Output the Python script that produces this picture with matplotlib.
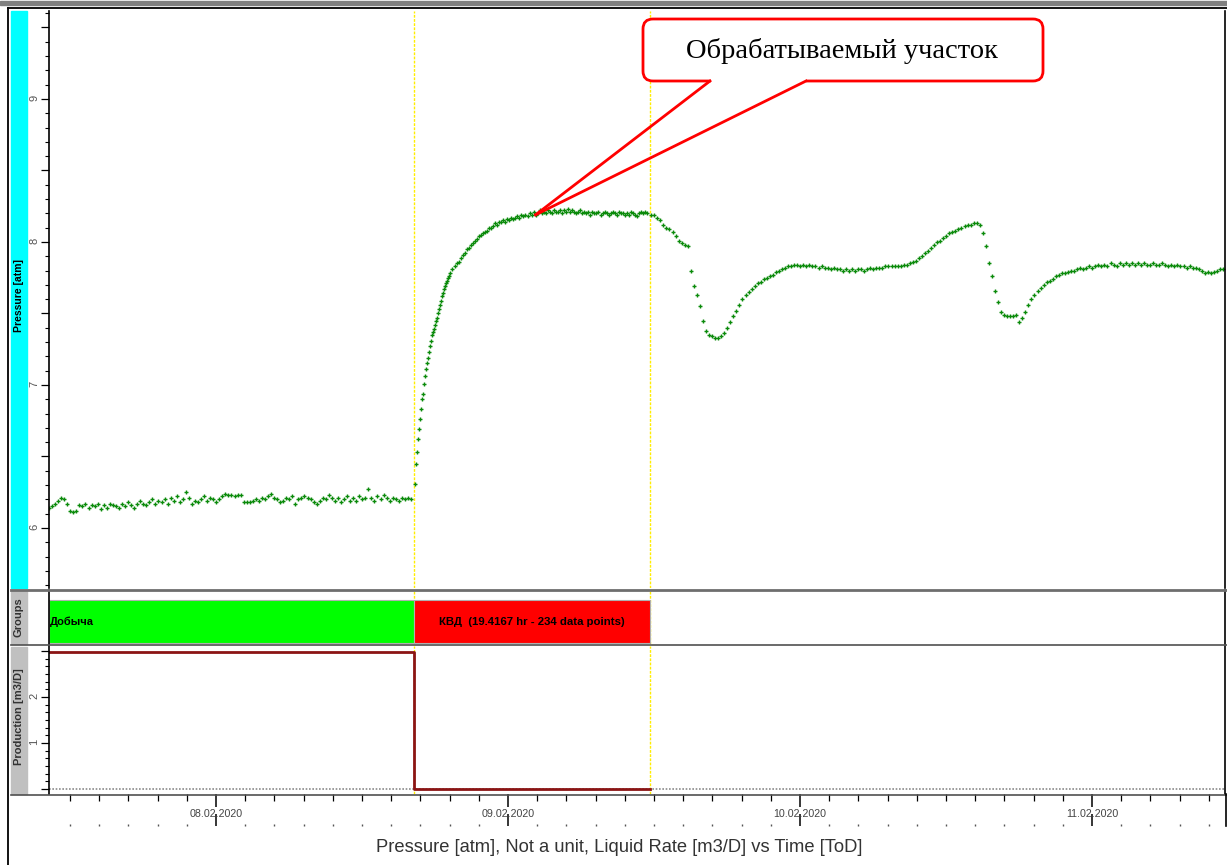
import numpy as np
import matplotlib
matplotlib.use('Agg')
import matplotlib.pyplot as plt
from matplotlib.ticker import MultipleLocator, FuncFormatter
from matplotlib.patches import FancyBboxPatch, Rectangle

plt.rcParams['font.family'] = ['Liberation Sans', 'DejaVu Sans']

# ---- data (time = day of February 2020) ----
prod_start = 7.428
shut_in = 8.678
kvd_hours = 19.4167
kvd_points = 234
kvd_end = shut_in + kvd_hours / 24

# flowing period, one reading every 15 min
p_prod = [
    6.14, 6.15, 6.17, 6.19, 6.21, 6.20, 6.17, 6.12, 6.11, 6.12, 6.16, 6.15,
    6.17, 6.14, 6.16, 6.15, 6.17, 6.13, 6.16, 6.14, 6.17, 6.16, 6.15, 6.14,
    6.17, 6.15, 6.18, 6.16, 6.14, 6.17, 6.19, 6.17, 6.16, 6.18, 6.20, 6.17,
    6.19, 6.18, 6.20, 6.17, 6.21, 6.19, 6.22, 6.18, 6.20, 6.25, 6.21, 6.17,
    6.19, 6.18, 6.20, 6.22, 6.19, 6.21, 6.20, 6.18, 6.20, 6.22, 6.24, 6.23,
    6.23, 6.22, 6.23, 6.23, 6.18, 6.18, 6.18, 6.19, 6.20, 6.19, 6.21, 6.20,
    6.22, 6.24, 6.21, 6.20, 6.18, 6.19, 6.21, 6.20, 6.22, 6.17, 6.20, 6.21,
    6.22, 6.21, 6.20, 6.18, 6.17, 6.19, 6.21, 6.20, 6.23, 6.21, 6.19, 6.21,
    6.18, 6.20, 6.22, 6.19, 6.21, 6.19, 6.22, 6.20, 6.21, 6.27, 6.21, 6.19,
    6.22, 6.20, 6.23, 6.21, 6.19, 6.21, 6.20, 6.19, 6.21, 6.20, 6.21, 6.20,
]
# build-up, first 3 hours every 5 min
p_bu_early = [
    6.31, 6.45, 6.53, 6.62, 6.69, 6.76, 6.83, 6.90, 6.94, 7.01, 7.06, 7.11,
    7.15, 7.19, 7.23, 7.27, 7.31, 7.35, 7.37, 7.39, 7.42, 7.45, 7.47, 7.50,
    7.53, 7.56, 7.59, 7.62, 7.64, 7.67, 7.69, 7.71, 7.73, 7.75, 7.76, 7.78,
]
# build-up, from 190 min every 10 min
p_bu_late = [
    7.81, 7.83, 7.85, 7.86, 7.89, 7.91, 7.92, 7.95, 7.96, 7.98, 7.99, 8.01,
    8.02, 8.04, 8.05, 8.06, 8.07, 8.08, 8.10, 8.10, 8.11, 8.13, 8.12, 8.14,
    8.14, 8.15, 8.14, 8.16, 8.15, 8.17, 8.16, 8.17, 8.18, 8.17, 8.19, 8.18,
    8.19, 8.18, 8.20, 8.19, 8.21, 8.19, 8.20, 8.22, 8.20, 8.21, 8.20, 8.22,
    8.21, 8.20, 8.22, 8.21, 8.21, 8.22, 8.20, 8.22, 8.21, 8.23, 8.21, 8.22,
    8.21, 8.20, 8.21, 8.22, 8.20, 8.21, 8.20, 8.21, 8.19, 8.21, 8.20, 8.20,
    8.21, 8.19, 8.20, 8.21, 8.20, 8.19, 8.20, 8.21, 8.20, 8.19, 8.21, 8.20,
    8.20, 8.19, 8.20, 8.19, 8.21, 8.20, 8.19, 8.18, 8.20, 8.21, 8.20, 8.21,
    8.20,
]
# after the test, every 15 min
p_after = [
    8.19, 8.19, 8.17, 8.15, 8.12, 8.10, 8.09, 8.07, 8.04, 8.01, 7.99, 7.98,
    7.97, 7.80, 7.69, 7.63, 7.55, 7.45, 7.38, 7.35, 7.34, 7.33, 7.33, 7.34,
    7.36, 7.40, 7.44, 7.48, 7.52, 7.56, 7.60, 7.63, 7.65, 7.67, 7.69, 7.71,
    7.72, 7.74, 7.75, 7.76, 7.77, 7.79, 7.80, 7.81, 7.82, 7.83, 7.83, 7.84,
    7.84, 7.83, 7.84, 7.83, 7.84, 7.83, 7.83, 7.82, 7.83, 7.82, 7.82, 7.81,
    7.82, 7.81, 7.81, 7.80, 7.81, 7.80, 7.81, 7.80, 7.81, 7.81, 7.80, 7.81,
    7.82, 7.81, 7.82, 7.82, 7.82, 7.83, 7.83, 7.83, 7.83, 7.83, 7.83, 7.84,
    7.84, 7.85, 7.86, 7.87, 7.89, 7.90, 7.92, 7.94, 7.96, 7.98, 8.00, 8.01,
    8.03, 8.04, 8.06, 8.07, 8.08, 8.09, 8.10, 8.11, 8.12, 8.12, 8.13, 8.13,
    8.12, 8.06, 7.97, 7.85, 7.76, 7.66, 7.58, 7.51, 7.49, 7.48, 7.48, 7.48,
    7.49, 7.44, 7.47, 7.51, 7.56, 7.60, 7.63, 7.66, 7.68, 7.70, 7.72, 7.73,
    7.74, 7.76, 7.77, 7.78, 7.78, 7.79, 7.80, 7.80, 7.81, 7.82, 7.81, 7.82,
    7.83, 7.82, 7.83, 7.84, 7.83, 7.84, 7.83, 7.85, 7.84, 7.83, 7.85, 7.84,
    7.85, 7.84, 7.85, 7.84, 7.85, 7.84, 7.85, 7.84, 7.84, 7.85, 7.84, 7.84,
    7.85, 7.84, 7.83, 7.84, 7.83, 7.84, 7.83, 7.83, 7.82, 7.83, 7.82, 7.82,
    7.81, 7.80, 7.78, 7.79, 7.78, 7.79, 7.80, 7.81, 7.81,
]

minute = 1 / 1440
t_prod = prod_start + 15 * minute * np.arange(len(p_prod))
t_bu_early = shut_in + 5 * minute * (1 + np.arange(len(p_bu_early)))
t_bu_late = shut_in + 190 * minute + 10 * minute * np.arange(len(p_bu_late))
t_after = kvd_end + 5 * minute + 15 * minute * np.arange(len(p_after))

rate_t = [prod_start, shut_in, kvd_end]
rate_q = [2.97, 0.0, 0.0]

group_names = ['Добыча', f'КВД  ({kvd_hours} hr - {kvd_points} data points)']
group_start = [prod_start, shut_in]
group_end = [shut_in, kvd_end]
group_colors = ['#00ff00', '#ff0000']

day_ticks = [8, 9, 10, 11]
day_labels = ['08.02.2020', '09.02.2020', '10.02.2020', '11.02.2020']

# ---- figure ----
W, H = 1227, 865
fig = plt.figure(figsize=(W / 100, H / 100), dpi=100)


def box(x0, y0, x1, y1):
    return [x0 / W, 1 - y1 / H, (x1 - x0) / W, (y1 - y0) / H]


ax_p = fig.add_axes(box(49, 11, 1225, 588))
ax_g = fig.add_axes(box(49, 590, 1225, 644), sharex=ax_p)
ax_q = fig.add_axes(box(49, 646, 1225, 794), sharex=ax_p)

for ax in (ax_p, ax_g, ax_q):
    ax.spines['top'].set_visible(False)
    ax.spines['bottom'].set_visible(False)
    for s in ('left', 'right'):
        ax.spines[s].set_linewidth(1.2)
    ax.axvline(shut_in, color='#ffee00', lw=1, ls=(0, (2, 1)), zorder=0)
    ax.axvline(kvd_end, color='#ffee00', lw=1, ls=(0, (2, 1)), zorder=0)

# pressure
for t, p in ((t_prod, p_prod), (t_bu_early, p_bu_early),
             (t_bu_late, p_bu_late), (t_after, p_after)):
    ax_p.plot(t, p, ls='none', marker='+', color='#0a8a0a', ms=3.0, mew=1.0)
ax_p.set_xlim(7.4281, 11.4555)
ax_p.set_ylim(5.58, 9.615)
ax_p.yaxis.set_major_locator(MultipleLocator(0.5))
ax_p.yaxis.set_minor_locator(MultipleLocator(0.1))
ax_p.yaxis.set_major_formatter(
    FuncFormatter(lambda v, _: f'{v:.0f}' if abs(v - round(v)) < 1e-6 else ''))
ax_p.tick_params(axis='x', which='both', bottom=False, labelbottom=False)
ax_p.tick_params(axis='y', which='major', length=6, width=0.9, labelsize=8,
                 labelcolor='#555555', pad=1, labelrotation=90)
ax_p.tick_params(axis='y', which='minor', length=3, width=0.8)

# groups
ax_g.set_ylim(0, 1)
ax_g.set_yticks([])
ax_g.tick_params(axis='x', which='both', bottom=False, labelbottom=False)
for name, s, e, c in zip(group_names, group_start, group_end, group_colors):
    ax_g.barh(0.415, e - s, left=s, height=0.79, color=c, edgecolor='#b0b0b0', lw=0.8)
ax_g.annotate(group_names[0], (group_start[0], 0.415), xytext=(1, 0),
              textcoords='offset points', ha='left', va='center',
              fontsize=8, fontweight='bold')
ax_g.text((group_start[1] + group_end[1]) / 2, 0.415, group_names[1],
          ha='center', va='center', fontsize=8.2, fontweight='bold')

# production
ax_q.axhline(0, color='#8a8a8a', lw=1.2, ls=(0, (1, 1)), zorder=1)
ax_q.plot(rate_t, rate_q, drawstyle='steps-post', color='#8b1414', lw=2, zorder=2)
ax_q.set_ylim(-0.109, 3.109)
ax_q.yaxis.set_major_locator(MultipleLocator(1))
ax_q.yaxis.set_minor_locator(MultipleLocator(1 / 6))
ax_q.yaxis.set_major_formatter(
    FuncFormatter(lambda v, _: f'{v:.0f}' if round(v) in (1, 2) else ''))
ax_q.tick_params(axis='y', which='major', length=6, width=0.9, labelsize=8,
                 labelcolor='#555555', pad=1, labelrotation=90)
ax_q.tick_params(axis='y', which='minor', length=3, width=0.8)
ax_q.set_xticks(day_ticks, labels=day_labels)
ax_q.xaxis.set_minor_locator(MultipleLocator(0.1))
ax_q.tick_params(axis='x', which='major', length=9, width=1.1, labelsize=7.7,
                 labelcolor='#444444', pad=2)
ax_q.tick_params(axis='x', which='minor', length=5, width=0.9)

sec = ax_q.secondary_xaxis(-32 / 148)
sec.set_xticks(day_ticks)
sec.xaxis.set_minor_locator(MultipleLocator(0.1))
sec.spines['bottom'].set_visible(False)
sec.tick_params(axis='x', which='major', direction='in', length=9, width=1.1,
                labelbottom=False)
sec.tick_params(axis='x', which='minor', direction='in', length=1.5, width=1,
                color='#555555')

fig.text(619 / W, 1 - 848 / H,
         'Pressure [atm], Not a unit, Liquid Rate [m3/D] vs Time [ToD]',
         ha='center', va='center', fontsize=13.2, color='#333333')

# ---- frame, side strips and callout (pixel overlay) ----
ov = fig.add_axes([0, 0, 1, 1], zorder=10)
ov.set_xlim(0, W)
ov.set_ylim(H, 0)
ov.axis('off')
ov.add_patch(Rectangle((0, 1), W, 4, color='#808080'))
ov.plot([8, W], [8, 8], color='black', lw=1.3)
ov.plot([8, 8], [8, H], color='black', lw=1.3)
ov.add_patch(Rectangle((11, 11), 16, 577, color='#00ffff'))
ov.add_patch(Rectangle((11, 591), 16, 53, color='#c0c0c0'))
ov.add_patch(Rectangle((11, 647), 16, 147, color='#c0c0c0'))
ov.plot([11, W], [589.5, 589.5], color='#6e6e6e', lw=2)
ov.plot([11, W], [645, 645], color='#505050', lw=1.2)
ov.plot([11, W], [795, 795], color='#505050', lw=1.2)
ov.plot([1225.5, 1225.5], [794, 826], color='black', lw=1.2)
ov.text(19, 295, 'Pressure [atm]', rotation=90, ha='center', va='center',
        fontsize=7.5, fontweight='bold')
ov.text(19, 617, 'Groups', rotation=90, ha='center', va='center',
        fontsize=8, fontweight='bold', color='#333333')
ov.text(19, 717, 'Production [m3/D]', rotation=90, ha='center', va='center',
        fontsize=8, fontweight='bold', color='#333333')

tip = ov.transData.inverted().transform(
    ax_p.transData.transform((t_bu_late[41], p_bu_late[41])))
ov.add_patch(FancyBboxPatch((643, 19), 400, 62,
                            boxstyle='round,pad=0,rounding_size=10',
                            fc='white', ec='#ff0000', lw=2))
ov.add_patch(Rectangle((711, 77), 94, 6, color='white', zorder=3))
ov.plot([710, tip[0]], [81, tip[1]], color='#ff0000', lw=2, zorder=4)
ov.plot([806, tip[0]], [81, tip[1]], color='#ff0000', lw=2, zorder=4)
ov.text(842, 51, 'Обрабатываемый участок', ha='center', va='center',
        fontsize=20.5, family=['Liberation Serif', 'DejaVu Serif'], zorder=5)

fig.savefig('out.png', dpi=100)
